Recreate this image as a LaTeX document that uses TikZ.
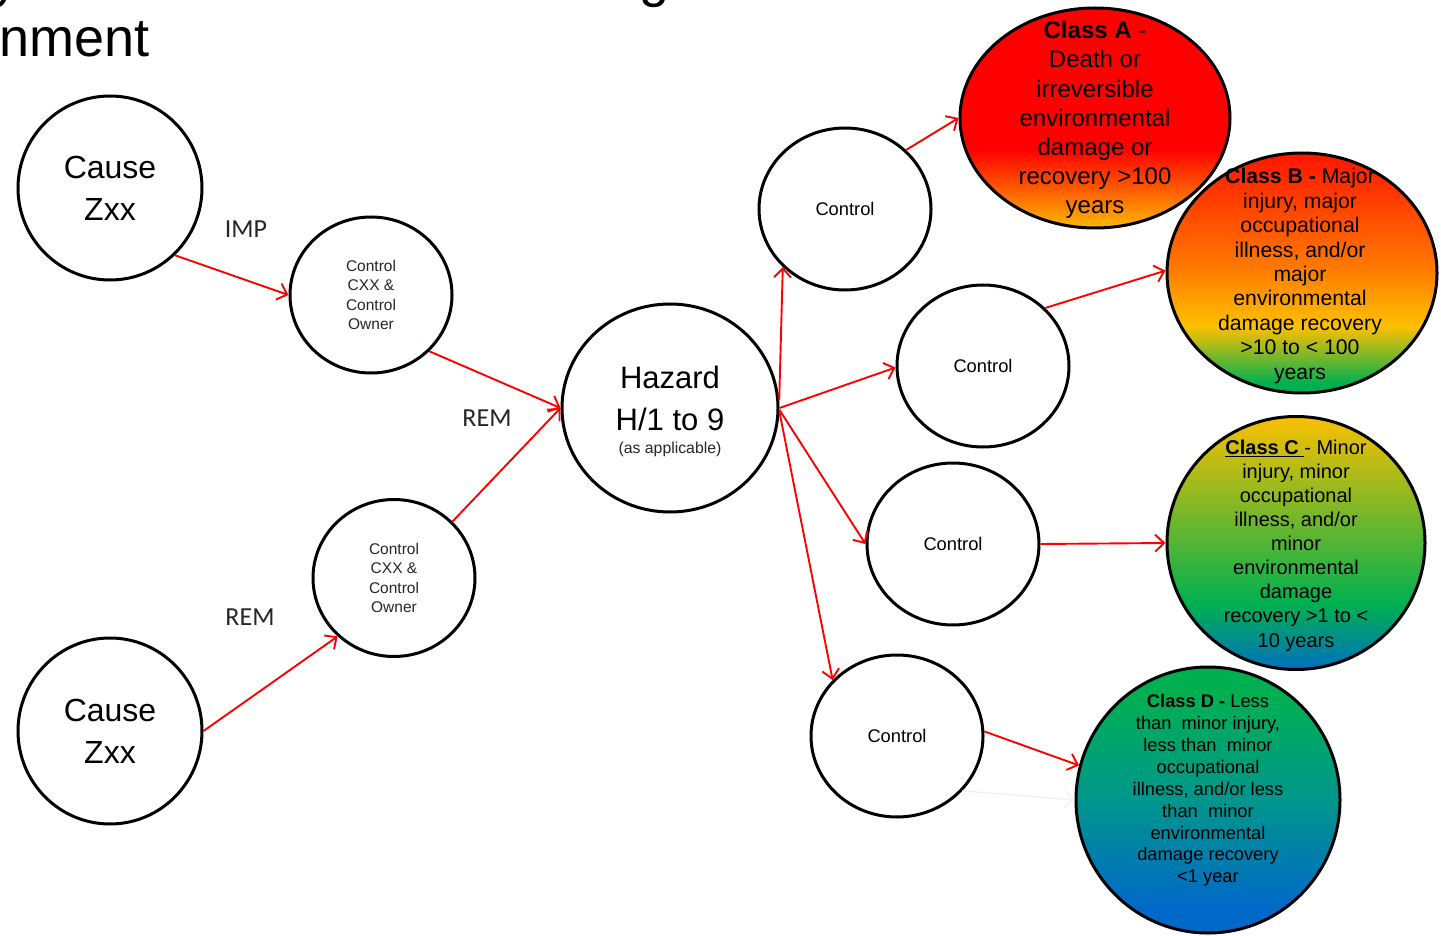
\documentclass[tikz,border=0pt]{standalone}
\usepackage{fontspec}
\setmainfont{Liberation Sans}
\newfontfamily\calib{Carlito}
\usetikzlibrary{shapes.geometric,arrows.meta}
\definecolor{rA}{RGB}{255,0,0}
\definecolor{oA}{RGB}{255,100,0}
\definecolor{yA}{RGB}{255,185,0}
\definecolor{rB}{RGB}{255,20,0}
\definecolor{oB}{RGB}{255,122,0}
\definecolor{yB}{RGB}{255,192,0}
\definecolor{gB}{RGB}{0,176,80}
\definecolor{yC}{RGB}{250,192,0}
\definecolor{gC}{RGB}{0,176,80}
\definecolor{bC}{RGB}{0,112,192}
\definecolor{gD}{RGB}{0,176,80}
\definecolor{tD}{RGB}{0,150,140}
\definecolor{bD}{RGB}{0,105,200}
\pgfdeclareverticalshading{shA}{100bp}{color(0bp)=(yA); color(25bp)=(yA); color(33bp)=(oA); color(43bp)=(rA); color(100bp)=(rA)}
\pgfdeclareverticalshading{shB}{100bp}{color(0bp)=(gB); color(27bp)=(gB); color(39bp)=(yB); color(51bp)=(oB); color(75bp)=(rB); color(100bp)=(rB)}
\pgfdeclareverticalshading{shC}{100bp}{color(0bp)=(bC); color(25bp)=(bC); color(38bp)=(gC); color(75bp)=(yC); color(100bp)=(yC)}
\pgfdeclareverticalshading{shD}{100bp}{color(0bp)=(bD); color(30bp)=(bD); color(50bp)=(tD); color(70bp)=(gD); color(100bp)=(gD)}
\tikzset{
  bub/.style={ellipse, draw=black, line width=3pt, fill=white, inner sep=0pt, align=center},
  cls/.style={ellipse, draw=black, line width=3pt, inner sep=0pt, shade},
  txt/.style={align=center, inner sep=0pt},
  conn/.style={draw=red, line width=1.9pt, -{Straight Barb[length=9pt,width=17pt]}},
  faint/.style={draw=black!6, line width=1.4pt, -{Straight Barb[length=9pt,width=17pt]}},
  lbl/.style={inner sep=0pt, font=\calib\fontsize{26}{30}\selectfont, text=black!85}
}
\begin{document}
\begin{tikzpicture}[x=1pt,y=-1pt]
\useasboundingbox (0,0) rectangle (1441,936);
% cut-off title
\node[inner sep=0pt, anchor=base west, font=\fontsize{54}{60}\selectfont] (ttl) at (-1,57) {nment};
\node[inner sep=0pt, anchor=base west, font=\fontsize{54}{60}\selectfont] (ttly) at (-8,-3) {y};
\node[inner sep=0pt, anchor=base west, font=\fontsize{54}{60}\selectfont] (ttlg) at (639,-3) {g};
% left side
\node[bub, minimum width=184pt, minimum height=184pt, font=\fontsize{32}{42}\selectfont] (cause1) at (110,188) {Cause\\Zxx};
\node[bub, minimum width=184pt, minimum height=186pt, font=\fontsize{32}{42}\selectfont] (cause2) at (110,731) {Cause\\Zxx};
\node[bub, minimum width=162pt, minimum height=156pt, font=\fontsize{15.5}{19.5}\selectfont, text=black!85] (ctrlA) at (371,295) {Control\\CXX \&\\Control\\Owner};
\node[bub, minimum width=162pt, minimum height=157pt, font=\fontsize{15.5}{19.5}\selectfont, text=black!85] (ctrlB) at (394,578) {Control\\CXX \&\\Control\\Owner};
\node[bub, minimum width=216pt, minimum height=208pt] (haz) at (670,408) {};
\node[txt, font=\fontsize{31}{42}\selectfont] (hazt) at (670,398) {Hazard\\H/1 to 9};
\node[txt, font=\fontsize{15.8}{18}\selectfont, text=black!85] (hazs) at (670,449) {(as applicable)};
% controls
\node[bub, minimum width=172pt, minimum height=162pt, font=\fontsize{18.3}{22}\selectfont] (c1) at (845,209) {Control};
\node[bub, minimum width=172pt, minimum height=162pt, font=\fontsize{18.3}{22}\selectfont] (c2) at (983,366) {Control};
\node[bub, minimum width=172pt, minimum height=162pt, font=\fontsize{18.3}{22}\selectfont] (c3) at (953,544) {Control};
\node[bub, minimum width=172pt, minimum height=162pt, font=\fontsize{18.3}{22}\selectfont] (c4) at (897,736) {Control};
% classes
\node[cls, shading=shA, minimum width=270pt, minimum height=220pt] (clsA) at (1095,118) {};
\node[txt, font=\fontsize{24}{29.2}\selectfont] (clsAt) at (1095,120) {\textbf{Class A} -\\Death or\\irreversible\\environmental\\damage or\\recovery {>}100\\years};
\node[cls, shading=shB, minimum width=270pt, minimum height=240pt] (clsB) at (1302,273) {};
\node[txt, font=\fontsize{21.2}{24.4}\selectfont] (clsBt) at (1300,276) {\textbf{Class B -} Major\\injury, major\\occupational\\illness, and/or\\major\\environmental\\damage recovery\\{>}10 to {<} 100\\years};
\node[cls, shading=shC, minimum width=258pt, minimum height=253pt] (clsC) at (1296,543) {};
\node[txt, font=\fontsize{20}{24.1}\selectfont] (clsCt) at (1296,545.5) {\underline{\textbf{Class C }}- Minor\\injury, minor\\occupational\\illness, and/or\\minor\\environmental\\damage\\recovery {>}1 to {<}\\10 years};
\node[cls, shading=shD, minimum width=264pt, minimum height=266pt] (clsD) at (1208,800) {};
\node[txt, font=\fontsize{18.3}{21.9}\selectfont] (clsDt) at (1208,790.5) {\textbf{Class D -} Less\\than \ minor injury,\\less than \ minor\\occupational\\illness, and/or less\\than \ minor\\environmental\\damage recovery\\{<}1 year};
% labels
\node[lbl] (imp) at (246,229) {IMP};
\node[lbl] (rem1) at (487,418) {REM};
\node[lbl] (rem2) at (250,617) {REM};
% connectors
\draw[conn] (cause1.-46) -- (ctrlA.west);
\draw[conn] (ctrlA.-44) -- (haz.west);
\draw[conn] (cause2.east) -- (ctrlB.226);
\draw[conn] (ctrlB.44) -- (haz.west);
\draw[conn] (haz.4) -- (c1.-137);
\draw[conn] (haz.east) -- (c2.181);
\draw[conn] (haz.-1) -- (c3.west);
\draw[conn] (haz.-2) -- (c4.139);
\draw[conn] (c1.44) -- (clsA.west);
\draw[conn] (c2.43) -- (clsB.179);
\draw[conn] (c3.east) -- (clsC.west);
\draw[conn] (c4.3) -- (clsD.165);
\draw[faint] (c4.-40) -- (clsD.west);
\end{tikzpicture}
\end{document}
